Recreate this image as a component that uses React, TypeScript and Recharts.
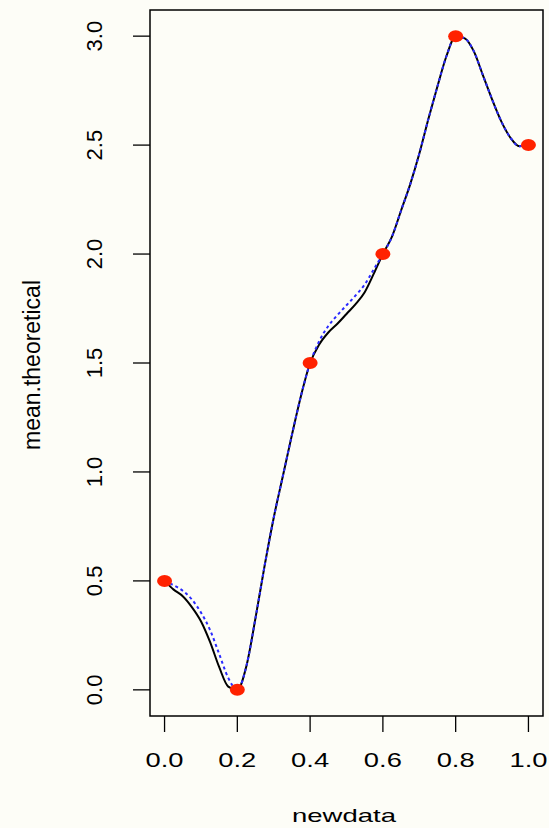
import React from 'react';
import { ComposedChart, Line, Scatter, XAxis, YAxis, ReferenceArea } from 'recharts';

const xs = [
    0, 0.025, 0.05, 0.075, 0.1, 0.125, 0.15, 0.175, 0.2,
    0.225, 0.25, 0.275, 0.3, 0.325, 0.35, 0.375, 0.4,
    0.425, 0.45, 0.475, 0.5, 0.525, 0.55, 0.575, 0.6,
    0.625, 0.65, 0.675, 0.7, 0.725, 0.75, 0.775, 0.8,
    0.825, 0.85, 0.875, 0.9, 0.925, 0.95, 0.975, 1,
];

// solid black curve
const meanTheoretical = [
    0.5, 0.46, 0.43, 0.38, 0.315, 0.22, 0.105, 0.015, 0,
    0.11, 0.33, 0.57, 0.79, 0.98, 1.17, 1.35, 1.5,
    1.585, 1.64, 1.68, 1.725, 1.77, 1.825, 1.91, 2.0,
    2.08, 2.2, 2.32, 2.46, 2.62, 2.77, 2.91, 3.0,
    2.99, 2.93, 2.82, 2.71, 2.61, 2.535, 2.495, 2.5,
];

// dotted blue curve
const meanFitted = [
    0.5, 0.48, 0.455, 0.415, 0.355, 0.275, 0.165, 0.055, 0,
    0.11, 0.33, 0.57, 0.79, 0.98, 1.17, 1.35, 1.5,
    1.6, 1.67, 1.72, 1.765, 1.81, 1.86, 1.93, 2.0,
    2.08, 2.2, 2.32, 2.46, 2.62, 2.77, 2.91, 3.0,
    2.99, 2.93, 2.82, 2.71, 2.61, 2.535, 2.495, 2.5,
];

// observed points
const obsX = [0, 0.2, 0.4, 0.6, 0.8, 1.0];
const obsY = [0.5, 0, 1.5, 2, 3, 2.5];

const xTicks = [0, 0.2, 0.4, 0.6, 0.8, 1.0];
const yTicks = [0, 0.5, 1, 1.5, 2, 2.5, 3];

const blackData = xs.map((x, i) => ({ x, y: meanTheoretical[i] }));
const blueData = xs.map((x, i) => ({ x, y: meanFitted[i] }));
const obsData = obsX.map((x, i) => ({ x, y: obsY[i] }));

const FONT = '"Liberation Sans", Arial, Helvetica, sans-serif';

const XTick = (props: any) => {
    const { x, y, payload } = props;
    return (
        <text x={x} y={y + 35} textAnchor="middle" fontFamily={FONT} fontSize={21} fill="#000"
            textLength={38} lengthAdjust="spacingAndGlyphs">
            {payload.value.toFixed(1)}
        </text>
    );
};

const YTick = (props: any) => {
    const { x, y, payload } = props;
    const tx = x - 31;
    return (
        <text x={tx} y={y} transform={`rotate(-90 ${tx} ${y})`} textAnchor="middle"
            fontFamily={FONT} fontSize={22} fill="#000">
            {payload.value.toFixed(1)}
        </text>
    );
};

const Dot = (props: any) => {
    const { cx, cy } = props;
    return <ellipse cx={cx} cy={cy} rx={7.5} ry={6} fill="#ff2200" />;
};

export default function App() {
    return (
        <div style={{ width: 549, height: 828, background: '#fdfdf7', position: 'relative' }}>
            <style>{'body{margin:0;background:#fdfdf7;}'}</style>
            <ComposedChart width={549} height={828} margin={{ top: 10, right: 6, left: 0, bottom: 0 }}>
                <XAxis
                    dataKey="x"
                    type="number"
                    domain={[-0.04, 1.04]}
                    ticks={xTicks}
                    allowDataOverflow
                    height={112}
                    axisLine={false}
                    tickLine={{ stroke: '#000', strokeWidth: 1.3 }}
                    tickSize={16}
                    tickMargin={0}
                    tick={<XTick />}
                    label={{
                        content: () => (
                            <text x={344} y={822} textAnchor="middle" fontFamily={FONT} fontSize={19}
                                fill="#000" textLength={104} lengthAdjust="spacingAndGlyphs">
                                newdata
                            </text>
                        ),
                    }}
                />
                <YAxis
                    dataKey="y"
                    type="number"
                    domain={[-0.12, 3.12]}
                    ticks={yTicks}
                    allowDataOverflow
                    width={150}
                    axisLine={false}
                    tickLine={{ stroke: '#000', strokeWidth: 1.3 }}
                    tickSize={17}
                    tickMargin={0}
                    tick={<YTick />}
                    label={{
                        content: () => (
                            <text x={40} y={365} transform="rotate(-90 40 365)" textAnchor="middle"
                                fontFamily={FONT} fontSize={23} fill="#000">
                                mean.theoretical
                            </text>
                        ),
                    }}
                />
                <ReferenceArea x1={-0.04} x2={1.04} y1={-0.12} y2={3.12} fill="none" stroke="#000"
                    strokeWidth={1.5} fillOpacity={0} ifOverflow="visible" />
                <Line data={blackData} dataKey="y" type="monotone" stroke="#000" strokeWidth={2}
                    dot={false} isAnimationActive={false} />
                <Line data={blueData} dataKey="y" type="monotone" stroke="#2a2aff" strokeWidth={2}
                    strokeDasharray="3 3" dot={false} isAnimationActive={false} />
                <Scatter data={obsData} dataKey="y" shape={<Dot />} isAnimationActive={false} />
            </ComposedChart>
        </div>
    );
}
